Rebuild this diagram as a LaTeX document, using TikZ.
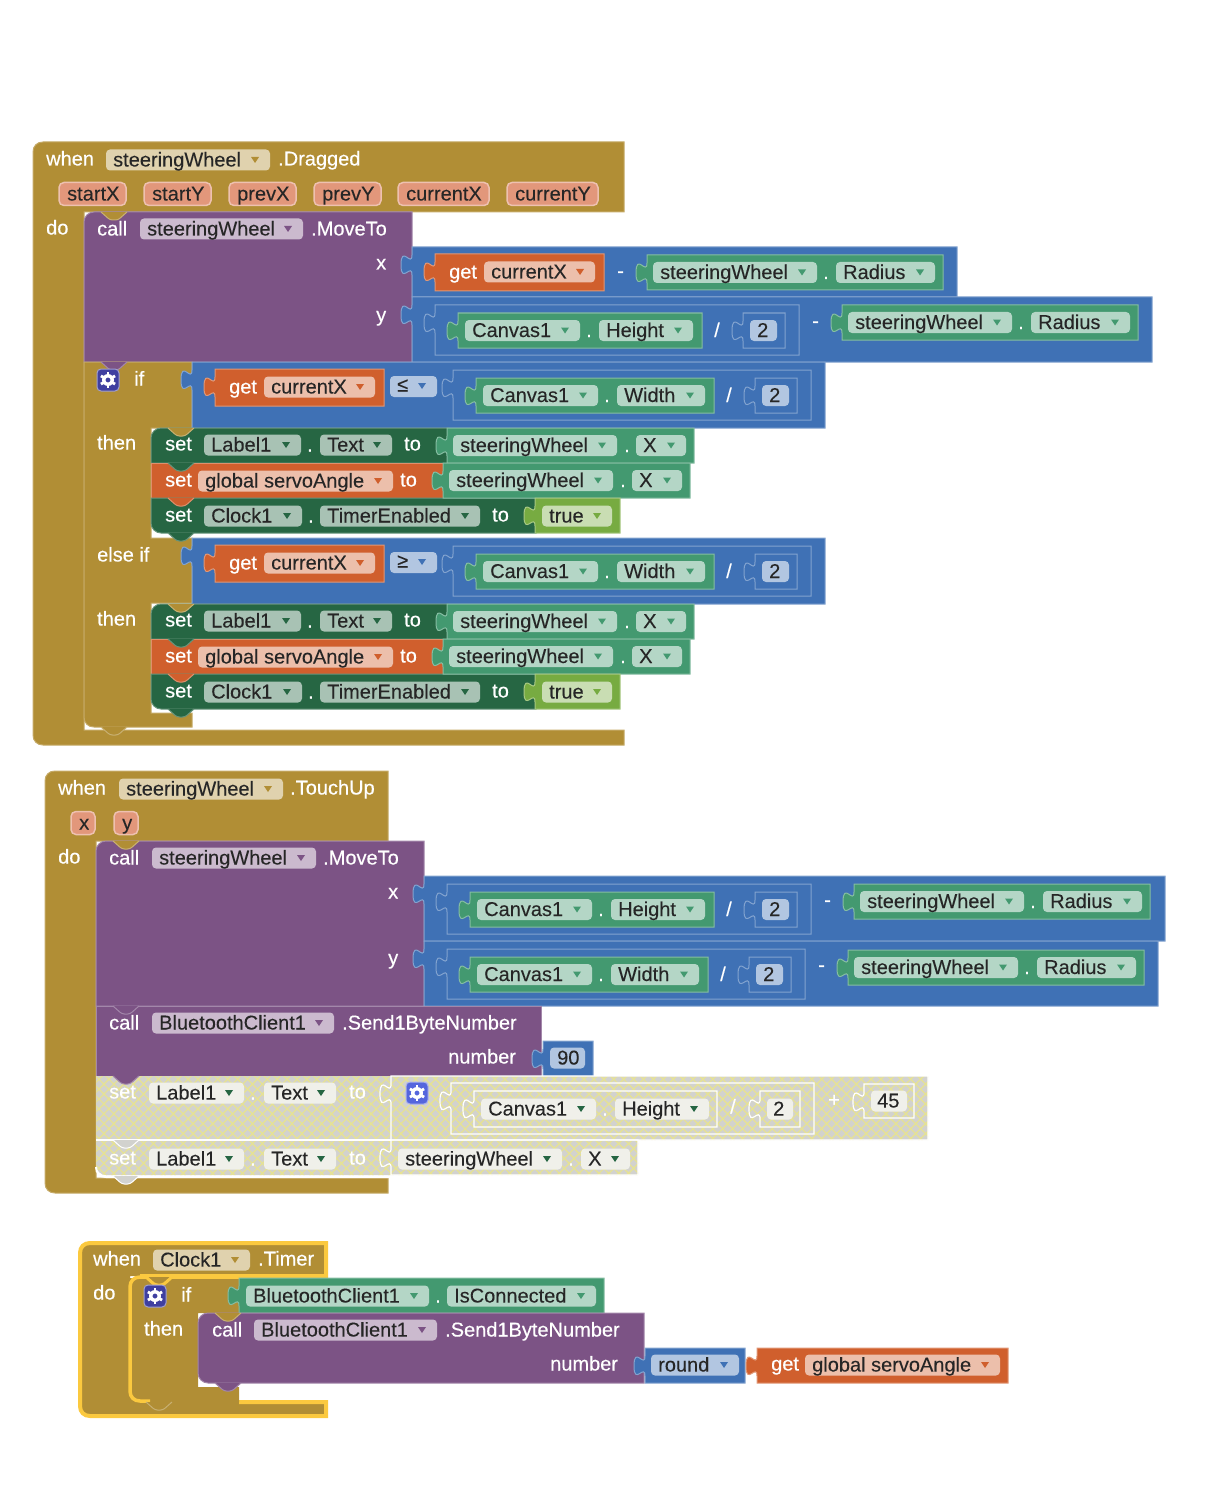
\documentclass[tikz,border=0pt]{standalone}
\usepackage{fontspec}
\setmainfont{Liberation Sans}
\newfontfamily\whitefont[FakeBold=0.35]{Liberation Sans}
\newfontfamily\inkfont[FakeBold=0.12]{Liberation Sans}
\usetikzlibrary{patterns.meta}

\definecolor{ctlbrown}{HTML}{B18E35}
\definecolor{callpurple}{HTML}{7C5385}
\definecolor{mathblue}{HTML}{3F71B5}
\definecolor{getgreen}{HTML}{439970}
\definecolor{setgreen}{HTML}{266643}
\definecolor{varorange}{HTML}{D05F2D}
\definecolor{logiclime}{HTML}{77AB41}
\definecolor{evtyellow}{HTML}{FBC93F}
\definecolor{pillfill}{HTML}{E2977B}
\definecolor{offgray}{HTML}{D2D2CE}
\definecolor{offyellow}{HTML}{E6E294}
\definecolor{offfield}{HTML}{F0F0EA}
\definecolor{gearblue}{HTML}{3F3FA0}
\definecolor{gearlight}{HTML}{5566DD}

\tikzset{
	txt/.style={anchor=base west,inner sep=0pt,font=\fontsize{20}{24}\inkfont},
	wtxt/.style={txt,font=\fontsize{20}{24}\whitefont},
	hatchup/.style={pattern={Lines[angle=45,distance=7pt,line width=1.3pt]},pattern color=offyellow,draw=none},
	hatchdown/.style={pattern={Lines[angle=-45,distance=7pt,line width=1.3pt]},pattern color=offyellow,draw=none},
	ghost/.style={fill=none,draw=white,line width=1.2pt}
}

\newcounter{lab}
% white text, yc is the middle of the row
\newcommand{\lab}[3]{\stepcounter{lab}\node[wtxt,text=white] (lab\thelab) at (#1,{#2+6.5}) {#3};}
\newcommand{\ink}[3]{\stepcounter{lab}\node[txt,text=black!85] (lab\thelab) at (#1,{#2+6.5}) {#3};}
% field with a drop down arrow
\newcommand{\fld}[6][]{
	\fill[#6!40!white,rounded corners=4pt,#1] (#2,{#4-10.5}) rectangle (#3,{#4+10.5});
	\fill[#6] ({#3-19},{#4-3}) -- ({#3-11},{#4-3}) -- ({#3-15},{#4+3}) -- cycle;
	\ink{#2+7}{#4}{#5}
}
% field without arrow
\newcommand{\numf}[5]{
	\fill[#5!40!white,rounded corners=4pt] (#1,{#3-10.5}) rectangle (#2,{#3+10.5});
	\ink{#1+7}{#3}{#4}
}
\newcommand{\pill}[4]{
	\draw[fill=pillfill,draw=pillfill!60!white,line width=1.5pt,rounded corners=5pt] (#1,{#3-11.5}) rectangle (#2,{#3+11.5});
	\ink{#1+8}{#3}{#4}
}
% value block with its tab on the left
\newcommand{\vblk}[6][]{
	\path[fill=#6,draw=#6!65!white,line width=1pt,#1] (#2,#3) -- (#4,#3) -- (#4,#5) -- (#2,#5) -- (#2,{#3+28})
		.. controls (#2,{#3+15}) and ({#2-11},{#3+38}) .. ({#2-11},{#3+18})
		.. controls ({#2-11},{#3-3}) and (#2,{#3+21}) .. (#2,{#3+8}) -- cycle;
}
% statement block, last two are the corner radii on the left
\newcommand{\stat}[8][]{
	\path[fill=#6,draw=#6!70!white,line width=1pt,#1] (#2,{#3+#7}) .. controls (#2,{#3+0.45*#7}) and ({#2+0.45*#7},#3) .. ({#2+#7},#3) -- (#4,#3) -- (#4,#5)
		-- ({#2+#8},#5) .. controls ({#2+0.45*#8},#5) and (#2,{#5-0.45*#8}) .. (#2,{#5-#8}) -- cycle;
}
\newcommand{\notch}[4][]{
	\path[fill=#4,draw=#4!70!white,line width=1pt,rounded corners=2.5pt,#1] (#2,#3) -- ({#2+9},{#3+8}) -- ({#2+17},{#3+8}) -- ({#2+26},#3);
}
\newcommand{\offblk}[6]{
	\stat[draw=none]{#1}{#2}{#3}{#4}{offgray}{#5}{#6}
	\stat[hatchup]{#1}{#2}{#3}{#4}{offgray}{#5}{#6}
	\stat[hatchdown]{#1}{#2}{#3}{#4}{offgray}{#5}{#6}
}
\newcommand{\gearbtn}[3]{
	\draw[fill=#3,draw=#3!50!white,line width=1pt,rounded corners=4pt] (#1,{#2-11}) rectangle ({#1+22},{#2+11});
	\fill[white,even odd rule] ({#1+11},#2) circle (6pt) ({#1+11},#2) circle (2.6pt);
	\foreach \a in {0,60,...,300}
		\draw[white,line width=2.8pt] ({#1+11+5*cos(\a+30)},{#2+5*sin(\a+30)}) -- ({#1+11+8.2*cos(\a+30)},{#2+8.2*sin(\a+30)});
}
% getter blocks that come back often
\newcommand{\radiusblk}[2]{
	\vblk{#1}{#2}{#1+296}{#2+35}{getgreen}
	\fld{#1+6}{#1+170}{#2+17.5}{steeringWheel}{getgreen}
	\lab{#1+176}{#2+17.5}{.}
	\fld{#1+189}{#1+288}{#2+17.5}{Radius}{getgreen}
}
\newcommand{\xblk}[2]{
	\vblk{#1}{#2}{#1+247}{#2+35}{getgreen}
	\fld{#1+6}{#1+170}{#2+17.5}{steeringWheel}{getgreen}
	\lab{#1+177}{#2+17.5}{.}
	\fld{#1+189}{#1+239}{#2+17.5}{X}{getgreen}
}
% canvas dimension divided by 2 inside a blue block
\newcommand{\divblk}[4]{
	\vblk{#1}{#2}{#1+120+#4}{#2+50}{mathblue}
	\vblk{#1+23}{#2+8}{#1+23+#4}{#2+43}{getgreen}
	\fld{#1+30}{#1+145}{#2+25.5}{Canvas1}{getgreen}
	\lab{#1+151}{#2+25.5}{.}
	\fld{#1+164}{#1+14+#4}{#2+25.5}{#3}{getgreen}
	\lab{#1+35+#4}{#2+25.5}{/}
	\vblk{#1+64+#4}{#2+8}{#1+106+#4}{#2+43}{mathblue}
	\numf{#1+71+#4}{#1+98+#4}{#2+25.5}{2}{mathblue}
}
\newcommand{\getblk}[3]{
	\vblk{#1}{#2}{#1+169}{#2+37}{varorange}
	\lab{#1+14}{#2+18}{get}
	\fld{#1+49}{#1+160}{#2+18}{#3}{varorange}
}

\begin{document}
\begin{tikzpicture}[x=1pt,y=-1pt]
	\useasboundingbox (0,0) rectangle (1221,1495);
	% first event
	\draw[fill=ctlbrown,draw=ctlbrown!75!white,line width=1pt] (33,152) .. controls (33,146) and (37,142) .. (43,142) -- (624,142) -- (624,212) -- (84,212) -- (84,730) -- (624,730) -- (624,745) -- (43,745) .. controls (37,745) and (33,741) .. (33,735) -- cycle;
	\lab{46}{159}{when}
	\fld{106}{270}{160}{steeringWheel}{ctlbrown}
	\lab{278}{159}{.Dragged}
	\pill{59}{126}{194}{startX}
	\pill{144}{211}{194}{startY}
	\pill{229}{296}{194}{prevX}
	\pill{314}{381}{194}{prevY}
	\pill{398}{489}{194}{currentX}
	\pill{507}{598}{194}{currentY}
	\lab{46}{228}{do}
	% move to
	\stat{84}{212}{412}{362}{callpurple}{10}{0}
	\notch{101}{212}{ctlbrown}
	\lab{97}{229}{call}
	\fld{140}{303}{229}{steeringWheel}{callpurple}
	\lab{311}{229}{.MoveTo}
	\lab{376}{263}{x}
	\lab{376}{315}{y}
	\vblk{412}{247}{957}{297}{mathblue}
	\getblk{435}{254}{currentX}
	\lab{617}{271}{-}
	\radiusblk{647}{255}
	\vblk{412}{297}{1152}{362}{mathblue}
	\divblk{435}{305}{Height}{244}
	\lab{812}{321}{-}
	\radiusblk{842}{305}
	% if and else if
	\draw[fill=ctlbrown,draw=ctlbrown!75!white,line width=1pt] (84,362) -- (192,362) -- (192,428) -- (151,428) -- (151,538) -- (192,538) -- (192,603) -- (151,603) -- (151,713) -- (192,713) -- (192,727) -- (94,727) .. controls (88,727) and (84,723) .. (84,717) -- cycle;
	\notch{101}{362}{callpurple}
	\notch{101}{727}{ctlbrown}
	\gearbtn{97}{380}{gearblue}
	\lab{134}{379}{if}
	\lab{97}{555}{else if}
	\foreach \dy/\op in {0/≤,176/≥}{
		\begin{scope}[shift={(0,\dy)}]
			\lab{97}{443}{then}
			\vblk{192}{362}{825}{428}{mathblue}
			\getblk{215}{369}{currentX}
			\fill[mathblue!40!white,rounded corners=4pt] (390,376) rectangle (437,397);
			\fill[mathblue] (418,383) -- (426,383) -- (422,389) -- cycle;
			\ink{397}{385}{\op}
			\divblk{453}{370}{Width}{238}
			\stat{151}{428}{448}{463}{setgreen}{10}{0}
			\stat{151}{463}{444}{498}{varorange}{0}{0}
			\stat{151}{498}{536}{533}{setgreen}{0}{10}
			\notch{168}{428}{ctlbrown}
			\notch{168}{463}{setgreen}
			\notch{168}{498}{varorange}
			\notch{168}{533}{setgreen}
			\lab{165}{444}{set}
			\fld{204}{301}{445}{Label1}{setgreen}
			\lab{307}{445}{.}
			\fld{320}{392}{445}{Text}{setgreen}
			\lab{404}{444}{to}
			\xblk{447}{428}
			\lab{165}{480}{set}
			\fld{198}{393}{481}{global servoAngle}{varorange}
			\lab{400}{480}{to}
			\xblk{443}{463}
			\lab{165}{515}{set}
			\fld{204}{302}{516}{Clock1}{setgreen}
			\lab{308}{516}{.}
			\fld{320}{480}{516}{TimerEnabled}{setgreen}
			\lab{492}{515}{to}
			\vblk{535}{498}{620}{533}{logiclime}
			\fld{542}{612}{516}{true}{logiclime}
		\end{scope}
	}
	% second event
	\draw[fill=ctlbrown,draw=ctlbrown!75!white,line width=1pt] (45,781) .. controls (45,775) and (49,771) .. (55,771) -- (388,771) -- (388,841) -- (96,841) -- (96,1178) -- (388,1178) -- (388,1193) -- (55,1193) .. controls (49,1193) and (45,1189) .. (45,1183) -- cycle;
	\lab{58}{788}{when}
	\fld{119}{283}{789}{steeringWheel}{ctlbrown}
	\lab{290}{788}{.TouchUp}
	\pill{71}{95}{823}{x}
	\pill{114}{138}{823}{y}
	\lab{58}{857}{do}
	\stat{96}{841}{424}{1006}{callpurple}{10}{0}
	\notch{113}{841}{ctlbrown}
	\lab{109}{858}{call}
	\fld{152}{316}{858}{steeringWheel}{callpurple}
	\lab{323}{858}{.MoveTo}
	\lab{388}{892}{x}
	\lab{388}{958}{y}
	\vblk{424}{876}{1165}{941}{mathblue}
	\divblk{447}{884}{Height}{244}
	\lab{824}{900}{-}
	\radiusblk{854}{884}
	\vblk{424}{941}{1158}{1006}{mathblue}
	\divblk{447}{949}{Width}{238}
	\lab{818}{965}{-}
	\radiusblk{848}{950}
	% send number
	\stat{96}{1006}{541}{1076}{callpurple}{0}{0}
	\notch{113}{1006}{callpurple}
	\lab{109}{1023}{call}
	\fld{152}{334}{1023}{BluetoothClient1}{callpurple}
	\lab{342}{1023}{.Send1ByteNumber}
	\lab{448}{1057}{number}
	\vblk{543}{1041}{593}{1076}{mathblue}
	\numf{550}{585}{1058}{90}{mathblue}
	% disabled blocks
	\offblk{96}{1076}{391}{1140}{0}{0}
	\offblk{391}{1076}{928}{1140}{0}{0}
	\offblk{96}{1140}{391}{1175}{0}{10}
	\offblk{391}{1140}{638}{1175}{0}{0}
	\draw[white,line width=1.2pt] (96,1140) -- (391,1140);
	\draw[white,line width=2pt] (96,1167) .. controls (96,1173) and (100,1177) .. (106,1177) -- (391,1177);
	\notch{113}{1076}{callpurple}
	\notch[draw=white]{113}{1140}{offgray}
	\notch[draw=white]{113}{1176}{offgray}
	\vblk[ghost]{391}{1076}{928}{1140}{offgray}
	\vblk[ghost]{391}{1140}{638}{1175}{offgray}
	\lab{109}{1092}{set}
	\fld[fill=offfield]{149}{244}{1093}{Label1}{setgreen}
	\lab{250}{1093}{.}
	\fld[fill=offfield]{264}{336}{1093}{Text}{setgreen}
	\lab{349}{1092}{to}
	\gearbtn{406}{1093}{gearlight}
	\vblk[ghost]{451}{1083}{814}{1134}{offgray}
	\vblk[ghost]{474}{1091}{717}{1127}{offgray}
	\fld[fill=offfield]{481}{596}{1109}{Canvas1}{setgreen}
	\lab{602}{1109}{.}
	\fld[fill=offfield]{615}{709}{1109}{Height}{setgreen}
	\lab{730}{1107}{/}
	\vblk[ghost]{760}{1091}{800}{1127}{offgray}
	\fill[offfield,rounded corners=4pt] (767,1098.5) rectangle (793,1119.5);
	\ink{773}{1109}{2}
	\lab{828}{1100}{+}
	\vblk[ghost]{864}{1084}{914}{1118}{offgray}
	\fill[offfield,rounded corners=4pt] (871,1090.5) rectangle (907,1111.5);
	\ink{877}{1101}{45}
	\lab{109}{1158}{set}
	\fld[fill=offfield]{149}{244}{1159}{Label1}{setgreen}
	\lab{250}{1159}{.}
	\fld[fill=offfield]{264}{336}{1159}{Text}{setgreen}
	\lab{349}{1158}{to}
	\fld[fill=offfield]{398}{562}{1159}{steeringWheel}{setgreen}
	\lab{568}{1159}{.}
	\fld[fill=offfield]{581}{630}{1159}{X}{setgreen}
	% third event, selected
	\fill[ctlbrown] (80,1253) .. controls (80,1247) and (84,1243) .. (90,1243) -- (326,1243) -- (326,1276) -- (130,1276) -- (130,1402) -- (326,1402) -- (326,1416) -- (90,1416) .. controls (84,1416) and (80,1412) .. (80,1406) -- cycle;
	\draw[evtyellow,line width=4pt] (140,1276) -- (326,1276) -- (326,1243) -- (90,1243) .. controls (84,1243) and (80,1247) .. (80,1253) -- (80,1406) .. controls (80,1412) and (84,1416) .. (90,1416) -- (326,1416) -- (326,1402) -- (239,1402);
	\lab{93}{1259}{when}
	\fld{153}{250}{1260}{Clock1}{ctlbrown}
	\lab{258}{1259}{.Timer}
	\lab{93}{1293}{do}
	\fill[ctlbrown] (130,1278) -- (239,1278) -- (239,1313) -- (198,1313) -- (198,1387) -- (239,1387) -- (239,1402) -- (130,1402) -- cycle;
	\draw[evtyellow,line width=3.5pt] (239,1277) -- (140,1277) .. controls (134,1277) and (130,1281) .. (130,1287) -- (130,1391) .. controls (130,1397) and (134,1401) .. (140,1401) -- (150,1401);
	\notch[draw=evtyellow,line width=3pt]{146}{1277}{ctlbrown}
	\notch{146}{1402}{ctlbrown}
	\gearbtn{144}{1296}{gearblue}
	\lab{181}{1295}{if}
	\lab{144}{1329}{then}
	\vblk{239}{1278}{604}{1313}{getgreen}
	\fld{246}{429}{1296}{BluetoothClient1}{getgreen}
	\lab{435}{1296}{.}
	\fld{447}{596}{1296}{IsConnected}{getgreen}
	\stat{198}{1313}{644}{1383}{callpurple}{10}{10}
	\notch{215}{1313}{ctlbrown}
	\notch{215}{1383}{callpurple}
	\lab{212}{1330}{call}
	\fld{254}{437}{1330}{BluetoothClient1}{callpurple}
	\lab{445}{1330}{.Send1ByteNumber}
	\lab{550}{1364}{number}
	\vblk{645}{1348}{745}{1383}{mathblue}
	\fld{651}{739}{1365}{round}{mathblue}
	\vblk{757}{1348}{1008}{1383}{varorange}
	\lab{771}{1364}{get}
	\fld{805}{1000}{1365}{global servoAngle}{varorange}
\end{tikzpicture}
\end{document}
